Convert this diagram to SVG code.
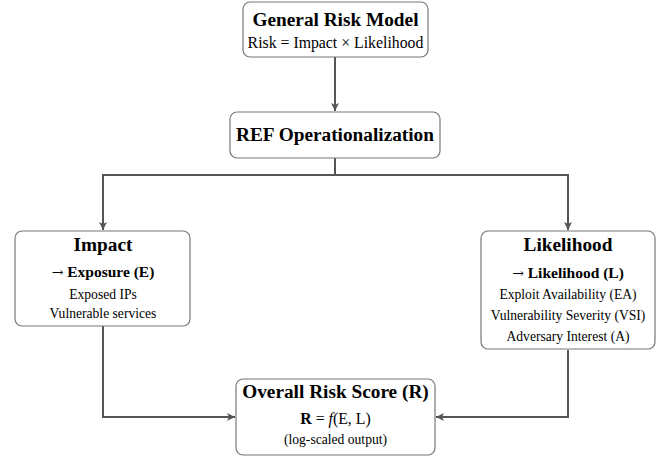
<svg xmlns="http://www.w3.org/2000/svg" width="662" height="459" viewBox="0 0 662 459">
<defs>
<marker id="ah" markerWidth="10" markerHeight="10" refX="9" refY="5" orient="auto" markerUnits="userSpaceOnUse">
<path d="M1,1 L9,5 L1,9 L3,5 Z" fill="#555"/>
</marker>
<style>
.box{fill:#fff;stroke:#777;stroke-width:1.2}
.t{font-family:"Liberation Serif","Times New Roman",serif;fill:#000;text-anchor:middle}
.h{font-size:19.3px;font-weight:bold}
.b{font-size:15.5px;font-weight:bold}
.n{font-size:13.6px}
.m{font-size:15.8px}
.ar{font-family:"DejaVu Serif",serif;font-weight:normal;font-size:14px}
.c{fill:none;stroke:#555;stroke-width:2}
</style>
</defs>
<rect width="662" height="459" fill="#fff"/>
<g id="connectors">
<path class="c" d="M335,57 L335,111" marker-end="url(#ah)"/>
<path class="c" d="M335,158 L335,175 M103,175 L568,175"/>
<path class="c" d="M103,174 L103,230" marker-end="url(#ah)"/>
<path class="c" d="M568,174 L568,230" marker-end="url(#ah)"/>
<path class="c" d="M103,326 L103,417 L235,417" marker-end="url(#ah)"/>
<path class="c" d="M568,350 L568,417 L436,417" marker-end="url(#ah)"/>
</g>
<g id="general">
<rect class="box" x="243" y="2" width="185" height="55" rx="7"/>
<text class="t h" x="335.5" y="26">General Risk Model</text>
<text class="t m" x="335.5" y="47.5">Risk = Impact × Likelihood</text>
</g>
<g id="ref">
<rect class="box" x="230" y="112" width="210" height="46" rx="7"/>
<text class="t h" x="335" y="140.5">REF Operationalization</text>
</g>
<g id="impact">
<rect class="box" x="15" y="231" width="175" height="95" rx="7"/>
<text class="t h" x="103" y="250.5">Impact</text>
<text class="t b" x="103" y="277"><tspan class="ar">→</tspan> Exposure (E)</text>
<text class="t n" x="103" y="299">Exposed IPs</text>
<text class="t n" x="103" y="318">Vulnerable services</text>
</g>
<g id="likelihood">
<rect class="box" x="481" y="231" width="174" height="118" rx="7"/>
<text class="t h" x="568" y="251">Likelihood</text>
<text class="t b" x="568" y="277.5"><tspan class="ar">→</tspan> Likelihood (L)</text>
<text class="t n" x="568" y="299">Exploit Availability (EA)</text>
<text class="t n" x="568" y="320">Vulnerability Severity (VSI)</text>
<text class="t n" x="568" y="340.5">Adversary Interest (A)</text>
</g>
<g id="overall">
<rect class="box" x="236" y="379" width="199" height="76" rx="7"/>
<text class="t h" x="335.5" y="398">Overall Risk Score (R)</text>
<text class="t m" x="335.5" y="424"><tspan font-weight="bold">R</tspan> = <tspan font-style="italic">f</tspan>(E, L)</text>
<text class="t n" x="335.5" y="444">(log-scaled output)</text>
</g>
</svg>
